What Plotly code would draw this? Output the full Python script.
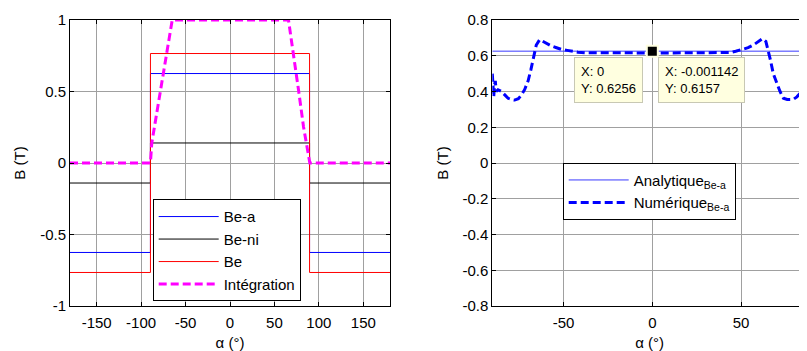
import plotly.graph_objects as go

# ---------------- data ----------------
# Left panel: stepped analytic fields vs angle
alpha_step = [-180, -89.5, -89.5, 89.5, 89.5, 180]
be_a = [-0.6256, -0.6256, 0.6256, 0.6256, -0.6256, -0.6256]
be_ni = [-0.14, -0.14, 0.14, 0.14, -0.14, -0.14]
be = [-0.7656, -0.7656, 0.7656, 0.7656, -0.7656, -0.7656]

alpha_integ = [-180, -89.5, -88, -78, -72.5, -65, 65.8, 71.5, 77.1, 82.7, 87.2, 89.8, 180]
integ = [0, 0, 0.14, 0.51, 0.72, 1.0, 1.0, 0.767, 0.51, 0.254, 0.09, 0, 0]

# Right panel: analytic vs numerical Be-a
alpha_ana = [-90.2, 90]
ana = [0.6256, 0.6256]

alpha_num = [-90.2, -89.8, -89.4, -88.9, -88.5, -88.0, -87.0, -85.0, -83.0, -81.3, -79.5,
             -77.6, -75.5, -73.8, -72.0, -70.0, -68.5, -67.2, -66.3, -65.4, -63.5, -61.6,
             -59.0, -56.9, -54.0, -51.3, -48.0, -45.7, -42.0, -38.0, -30.0, -20.0, -10.0,
             0.0, 10.0, 20.0, 30.0, 38.0, 43.8, 47.0, 51.0, 54.0, 57.0, 60.0, 62.0, 64.0,
             65.4, 66.5, 68.2, 70.0, 72.0, 73.9, 76.0, 79.5, 81.5, 83.3, 85.0, 87.0, 88.0, 90.0]
num = [0.50, 0.44, 0.37, 0.44, 0.46, 0.40, 0.41, 0.40, 0.38, 0.362, 0.355,
       0.352, 0.36, 0.38, 0.41, 0.46, 0.52, 0.576, 0.632, 0.66, 0.69, 0.68,
       0.668, 0.655, 0.645, 0.636, 0.63, 0.626, 0.62, 0.617, 0.616, 0.616, 0.6157,
       0.6157, 0.6157, 0.616, 0.616, 0.617, 0.618, 0.625, 0.636, 0.645, 0.66, 0.68, 0.695, 0.68,
       0.632, 0.58, 0.50, 0.45, 0.40, 0.362, 0.355, 0.356, 0.37, 0.39, 0.42, 0.464, 0.48, 0.50]

datatip_x = [0]
datatip_y = [0.6256]

# ticks
x1_ticks = [-150, -100, -50, 0, 50, 100, 150]
x1_labels = ["-150", "-100", "-50", "0", "50", "100", "150"]
y1_ticks = [-1, -0.5, 0, 0.5, 1]
y1_labels = ["-1", "-0.5", "0", "0.5", "1"]
x2_ticks = [-50, 0, 50]
x2_labels = ["-50", "0", "50"]
y2_ticks = [-0.8, -0.6, -0.4, -0.2, 0, 0.2, 0.4, 0.6, 0.8]
y2_labels = ["-0.8", "-0.6", "-0.4", "-0.2", "0", "0.2", "0.4", "0.6", "0.8"]

FONT = "Liberation Sans, Arial, sans-serif"

fig = go.Figure()

# left panel
fig.add_trace(go.Scatter(x=alpha_step, y=be_a, mode="lines", name="Be-a",
                         line=dict(color="#0000ff", width=1), xaxis="x", yaxis="y", legend="legend"))
fig.add_trace(go.Scatter(x=alpha_step, y=be_ni, mode="lines", name="Be-ni",
                         line=dict(color="#000000", width=1), xaxis="x", yaxis="y", legend="legend"))
fig.add_trace(go.Scatter(x=alpha_step, y=be, mode="lines", name="Be",
                         line=dict(color="#ff0000", width=1), xaxis="x", yaxis="y", legend="legend"))
fig.add_trace(go.Scatter(x=alpha_integ, y=integ, mode="lines", name="Intégration",
                         line=dict(color="#ff00ff", width=3, dash="8px,4px"),
                         xaxis="x", yaxis="y", legend="legend"))

# right panel
fig.add_trace(go.Scatter(x=alpha_ana, y=ana, mode="lines", name="Analytique<sub>Be-a</sub>",
                         line=dict(color="#3a3aff", width=1), xaxis="x2", yaxis="y2", legend="legend2"))
fig.add_trace(go.Scatter(x=alpha_num, y=num, mode="lines", name="Numérique<sub>Be-a</sub>",
                         line=dict(color="#0000ff", width=3, dash="8px,4px"),
                         xaxis="x2", yaxis="y2", legend="legend2"))
fig.add_trace(go.Scatter(x=datatip_x, y=datatip_y, mode="markers", showlegend=False,
                         marker=dict(symbol="square", size=11, color="black",
                                     line=dict(color="#ffffe0", width=2)),
                         xaxis="x2", yaxis="y2", cliponaxis=False))

axis_common = dict(
    showline=True, linecolor="black", linewidth=1,
    ticks="inside", ticklen=4, tickcolor="black",
    showgrid=True, gridcolor="#a0a0a0", gridwidth=1, zeroline=False,
    tickfont=dict(family=FONT, size=15, color="black"),
    title_font=dict(family=FONT, size=15, color="black"),
    automargin=False,
)

fig.update_layout(
    width=799, height=343,
    margin=dict(l=62, r=0, t=12, b=45),
    paper_bgcolor="white", plot_bgcolor="white",
    font=dict(family=FONT, size=15, color="black"),
    template="none",
    xaxis=dict(domain=[0, 320 / 737], range=[-180, 180], tickmode="array",
               tickvals=x1_ticks, ticktext=x1_labels, mirror="allticks", anchor="y",
               ticklabelstandoff=3,
               title=dict(text="α (°)", standoff=10), **axis_common),
    yaxis=dict(domain=[0, 1], range=[-1, 1], tickmode="array",
               tickvals=y1_ticks, ticktext=y1_labels, mirror="allticks", anchor="x",
               title=dict(text="B (T)", standoff=10), **axis_common),
    xaxis2=dict(domain=[(492.3 - 70) / 737, 1], range=[-90.2, 87.2], tickmode="array",
                tickvals=x2_ticks, ticktext=x2_labels, mirror="ticks", anchor="y2",
                ticklabelstandoff=3,
                title=dict(text="α (°)", standoff=10), **axis_common),
    yaxis2=dict(domain=[0, 1], range=[-0.8, 0.8], tickmode="array",
                tickvals=y2_ticks, ticktext=y2_labels, mirror=False, anchor="x2",
                title=dict(text="B (T)", standoff=10), **axis_common),
    legend=dict(x=(152.7 - 70) / 737, y=(306 - 199.3) / 286, xanchor="left", yanchor="top",
                bgcolor="white", bordercolor="black", borderwidth=1,
                font=dict(family=FONT, size=15, color="black"), itemwidth=60),
    legend2=dict(x=(562.7 - 70) / 737, y=(306 - 162.7) / 286, xanchor="left", yanchor="top",
                 bgcolor="white", bordercolor="black", borderwidth=1,
                 font=dict(family=FONT, size=15, color="black"), itemwidth=60),
    showlegend=True,
)

tip_style = dict(xref="x2", yref="y2", showarrow=False, align="left",
                 xanchor="left", yanchor="top", bgcolor="#ffffe0",
                 bordercolor="#c8c8b4", borderwidth=1, borderpad=6,
                 font=dict(family=FONT, size=13, color="black"))
fig.add_annotation(x=-44.1, y=0.595, text="X: 0<br>Y: 0.6256", **tip_style)
fig.add_annotation(x=3.4, y=0.595, text="X: -0.001142<br>Y: 0.6157", **tip_style)

fig.write_html("out.html")
